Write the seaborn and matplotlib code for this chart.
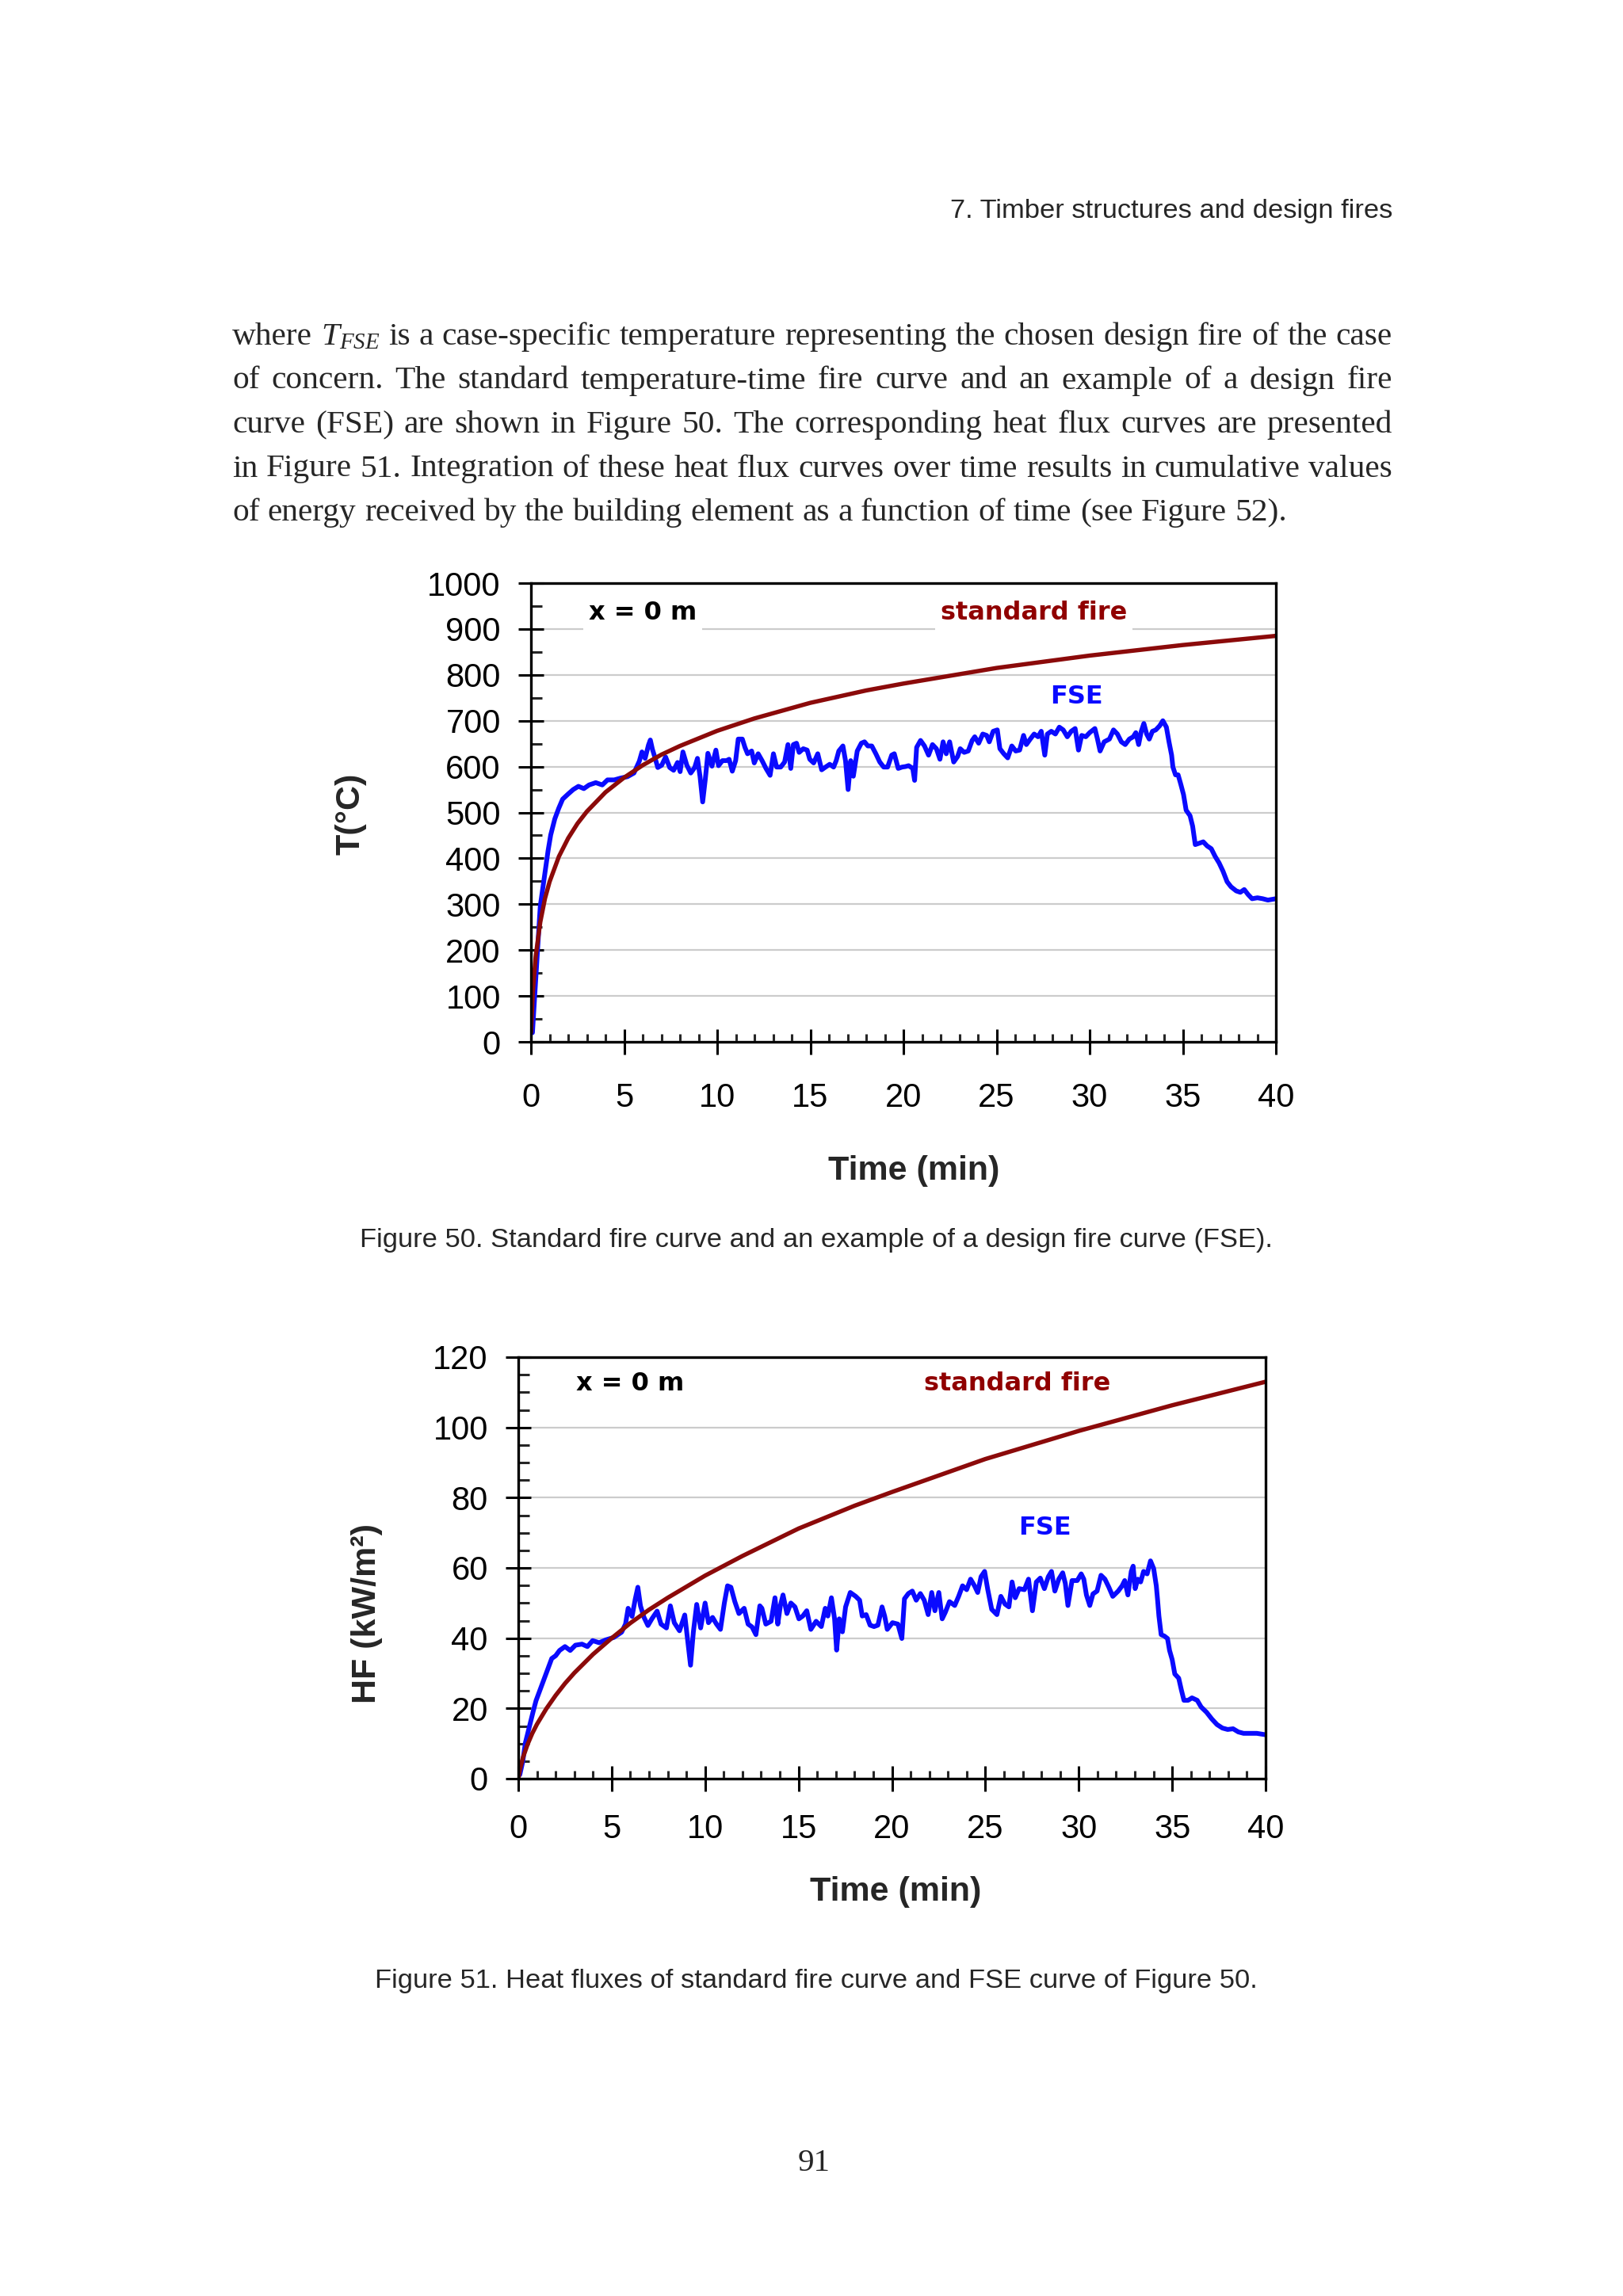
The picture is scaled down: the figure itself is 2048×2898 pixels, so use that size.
import matplotlib
matplotlib.use("Agg")
import matplotlib.pyplot as plt
from matplotlib.ticker import MultipleLocator
import seaborn as sns
import pandas as pd

# --- data ---
# standard fire (ISO 834 shape), temperature and heat flux
time_std = [0, 0.1, 0.25, 0.5, 0.75, 1, 1.5, 2, 2.5, 3, 4, 5, 6, 7, 8, 10, 12,
            15, 18, 20, 25, 30, 35, 40]
temp_std = [20, 108, 185, 261, 312, 349, 404, 444, 476, 502, 544, 576, 603, 626,
            645, 678, 705, 739, 766, 781, 815, 842, 865, 885]
hf_std = [0, 2.9, 6.0, 9.8, 12.9, 15.5, 19.9, 23.7, 27.1, 30.1, 35.4, 40.0, 44.3,
          48.1, 51.5, 57.8, 63.4, 71.2, 77.7, 81.6, 91.0, 99.0, 106.3, 113.0]

# FSE design fire, temperature (Figure 50)
time_fse_t = [
    0.08, 0.2, 0.35, 0.43, 0.5, 0.64, 0.78, 0.92, 1.06, 1.28, 1.49, 1.7, 1.99,
    2.27, 2.55, 2.84, 3.12, 3.48, 3.83, 4.11, 4.47, 4.82, 5.18, 5.53, 5.82, 5.96,
    6.13, 6.31, 6.41, 6.52, 6.67, 6.81, 7.02, 7.23, 7.45, 7.66, 7.87, 8.01, 8.16,
    8.37, 8.58, 8.79, 8.94, 9.08, 9.22, 9.36, 9.5, 9.72, 9.93, 10.07, 10.28,
    10.5, 10.64, 10.81, 10.99, 11.13, 11.35, 11.49, 11.63, 11.85, 11.99, 12.2,
    12.41, 12.62, 12.84, 13.02, 13.19, 13.41, 13.62, 13.8, 13.95, 14.09, 14.26,
    14.4, 14.62, 14.83, 14.97, 15.18, 15.4, 15.61, 15.82, 16.04, 16.25, 16.39,
    16.53, 16.75, 16.89, 17.03, 17.17, 17.31, 17.52, 17.74, 17.91, 18.09, 18.3,
    18.52, 18.73, 18.94, 19.15, 19.37, 19.51, 19.72, 19.93, 20.1, 20.28, 20.5,
    20.6, 20.71, 20.92, 21.13, 21.35, 21.56, 21.77, 21.96, 22.13, 22.3, 22.48,
    22.7, 22.91, 23.05, 23.26, 23.48, 23.69, 23.83, 24.04, 24.26, 24.47, 24.61,
    24.82, 25.04, 25.18, 25.39, 25.6, 25.82, 26.03, 26.24, 26.45, 26.6, 26.81,
    27.02, 27.23, 27.4, 27.59, 27.73, 27.94, 28.16, 28.37, 28.58, 28.8, 29.01,
    29.22, 29.4, 29.57, 29.79, 30.0, 30.28, 30.42, 30.56, 30.78, 31.06, 31.28,
    31.49, 31.7, 31.91, 32.13, 32.34, 32.48, 32.63, 32.77, 32.91, 33.06, 33.2,
    33.37, 33.55, 33.76, 33.93, 34.12, 34.26, 34.4, 34.47, 34.61, 34.75, 34.89,
    35.04, 35.18, 35.39, 35.53, 35.67, 35.89, 36.1, 36.31, 36.53, 36.74, 36.95,
    37.16, 37.38, 37.59, 37.87, 38.09, 38.3, 38.51, 38.72, 39.01, 39.29, 39.57,
    40.0,
]
temp_fse = [
    20, 100, 198, 250, 296, 336, 376, 417, 451, 486, 509, 529, 540,
    550, 557, 552, 560, 565, 560, 571, 571, 575, 578, 586, 612, 632,
    618, 647, 658, 638, 618, 598, 603, 621, 598, 592, 609, 589, 632,
    603, 586, 598, 618, 578, 523, 572, 629, 601, 636, 602, 613,
    613, 616, 590, 613, 660, 660, 642, 628, 634, 608, 628,
    613, 596, 581, 628, 599, 599, 610, 648, 596, 648, 651,
    631, 639, 636, 616, 608, 628, 593, 599, 605, 599, 613,
    634, 645, 613, 550, 613, 579, 634, 651, 654, 645, 645,
    628, 610, 599, 599, 625, 628, 596, 599, 600, 602, 596,
    570, 642, 657, 645, 625, 648, 639, 616, 654, 628, 654,
    610, 622, 639, 631, 634, 657, 665, 651, 671, 668, 654,
    677, 680, 639, 628, 619, 645, 634, 636, 668, 648, 660,
    671, 665, 677, 625, 671, 677, 671, 686, 680, 665, 677,
    683, 636, 668, 665, 674, 683, 660, 634, 654, 660, 680,
    671, 654, 648, 660, 665, 674, 648, 677, 694, 671, 660,
    677, 680, 689, 700, 686, 654, 625, 599, 582, 582, 562,
    539, 505, 493, 470, 430, 433, 436, 427, 421, 404, 390,
    372, 349, 338, 329, 326, 332, 321, 312, 314, 312, 309,
    312,
]

# FSE design fire, heat flux (Figure 51)
time_fse_hf = [
    0.08, 0.24, 0.38, 0.52, 0.66, 0.8, 0.95, 1.16, 1.37, 1.58, 1.79, 2.0, 2.21,
    2.5, 2.78, 3.06, 3.41, 3.7, 3.98, 4.33, 4.68, 5.11, 5.53, 5.74, 5.88, 6.09,
    6.26, 6.4, 6.54, 6.73, 6.94, 7.15, 7.43, 7.64, 7.93, 8.14, 8.35, 8.63, 8.91,
    9.05, 9.22, 9.37, 9.55, 9.76, 10.0, 10.18, 10.4, 10.61, 10.82, 11.03, 11.2,
    11.38, 11.59, 11.81, 12.09, 12.3, 12.51, 12.72, 12.93, 13.04, 13.25, 13.53,
    13.74, 13.89, 14.03, 14.17, 14.38, 14.59, 14.81, 15.02, 15.23, 15.44, 15.66,
    15.94, 16.22, 16.43, 16.57, 16.76, 16.93, 17.04, 17.18, 17.35, 17.52, 17.77,
    18.06, 18.27, 18.41, 18.62, 18.83, 19.04, 19.25, 19.47, 19.61, 19.75, 20.03,
    20.32, 20.53, 20.67, 20.88, 21.09, 21.3, 21.52, 21.73, 21.94, 22.13, 22.3,
    22.51, 22.69, 22.86, 23.08, 23.36, 23.57, 23.78, 24.0, 24.21, 24.42, 24.59,
    24.77, 24.96, 25.13, 25.34, 25.62, 25.83, 26.05, 26.26, 26.43, 26.6, 26.81,
    27.09, 27.31, 27.52, 27.73, 27.94, 28.16, 28.37, 28.54, 28.72, 28.93, 29.14,
    29.28, 29.42, 29.64, 29.92, 30.13, 30.27, 30.41, 30.59, 30.76, 30.98, 31.19,
    31.4, 31.61, 31.82, 32.11, 32.32, 32.46, 32.63, 32.81, 32.91, 33.02, 33.16,
    33.31, 33.47, 33.66, 33.84, 34.01, 34.15, 34.22, 34.29, 34.41, 34.58, 34.75,
    34.86, 35.0, 35.14, 35.35, 35.49, 35.63, 35.85, 36.06, 36.34, 36.55, 36.84,
    37.12, 37.4, 37.69, 37.97, 38.26, 38.54, 38.82, 39.25, 39.53, 40.0,
]
hf_fse = [
    1.1, 4.9, 10.2, 13.2, 16.2, 19.2, 22.2, 25.2, 28.2, 31.2, 34.2, 35.0, 36.5,
    37.6, 36.5, 38.0, 38.3, 37.6, 39.3, 38.7, 39.5, 40.2, 41.7, 44.0, 48.5, 46.2,
    51.1, 54.5, 49.2, 45.9, 43.6, 45.5, 47.7, 44.0, 42.9, 49.2, 44.4, 42.1, 46.6,
    40.2, 32.3, 41.7, 49.6, 42.9, 50.0, 44.4, 45.9, 44.0, 42.5, 50.0, 54.9,
    54.5, 50.4, 47.0, 48.5, 44.0, 43.2, 41.0, 49.2, 48.5, 44.0, 44.8,
    51.5, 44.0, 49.3, 52.3, 47.0, 50.0, 48.9, 45.5, 46.3, 47.8, 42.5,
    44.8, 43.3, 48.5, 46.3, 51.5, 45.5, 36.6, 45.5, 41.8, 48.9, 53.0,
    51.9, 50.8, 46.3, 46.7, 43.7, 43.3, 43.7, 48.9, 46.3, 42.5, 44.4,
    44.0, 39.9, 51.2, 52.7, 53.4, 50.8, 52.7, 50.8, 46.7, 53.0, 47.8,
    53.0, 45.5, 47.4, 50.4, 49.3, 51.9, 54.9, 53.8, 56.8, 54.9, 53.0,
    57.5, 59.0, 53.8, 48.2, 46.7, 51.9, 49.7, 48.9, 56.0, 51.5, 54.1,
    53.8, 56.8, 47.8, 56.0, 57.1, 54.1, 57.5, 59.0, 53.4, 56.8, 58.6,
    55.6, 49.3, 56.4, 56.4, 58.3, 56.8, 52.3, 49.3, 52.6, 53.4, 57.9,
    56.8, 54.5, 51.9, 53.4, 54.9, 56.4, 52.3, 59.0, 60.5, 54.1, 56.8,
    56.0, 59.0, 58.3, 62.0, 59.8, 54.9, 50.8, 46.3, 41.0, 40.6, 39.9,
    36.5, 33.9, 29.8, 28.6, 25.3, 22.3, 22.3, 23.0, 22.3, 20.4, 18.9,
    17.0, 15.4, 14.4, 14.0, 14.2, 13.3, 12.9, 12.9, 12.9, 12.5,
]

header = "7. Timber structures and design fires"
body_lines = [
    "where $T_{FSE}$ is a case-specific temperature representing the chosen design fire of the case",
    "of concern. The standard temperature-time fire curve and an example of a design fire",
    "curve (FSE) are shown in Figure 50. The corresponding heat flux curves are presented",
    "in Figure 51. Integration of these heat flux curves over time results in cumulative values",
    "of energy received by the building element as a function of time (see Figure 52).",
]
caption_50 = "Figure 50. Standard fire curve and an example of a design fire curve (FSE)."
caption_51 = "Figure 51. Heat fluxes of standard fire curve and FSE curve of Figure 50."

RED = "#8b0a0a"
BLUE = "#0a0aff"

sns.set_style("white")
plt.rcParams["font.family"] = ["Liberation Sans", "DejaVu Sans"]
plt.rcParams["mathtext.fontset"] = "custom"
plt.rcParams["mathtext.rm"] = "Liberation Serif"
plt.rcParams["mathtext.it"] = "Liberation Serif:italic"

W, H = 2048, 2898
fig = plt.figure(figsize=(W / 100, H / 100), dpi=100)
fig.patch.set_facecolor("white")


def style_axes(ax, ymax, ymajor, yminor, xpad):
    ax.set_xlim(0, 40)
    ax.set_ylim(0, ymax)
    ax.xaxis.set_major_locator(MultipleLocator(5))
    ax.xaxis.set_minor_locator(MultipleLocator(1))
    ax.yaxis.set_major_locator(MultipleLocator(ymajor))
    ax.yaxis.set_minor_locator(MultipleLocator(yminor))
    ax.grid(True, which="major", axis="y", color="#cccccc", lw=1.6)
    ax.set_axisbelow(True)
    for s in ax.spines.values():
        s.set_visible(True)
        s.set_color("black")
        s.set_linewidth(2.4)
    ax.tick_params(which="major", direction="inout", length=23, width=2.2,
                   color="black", labelsize=30, labelcolor="black",
                   bottom=True, left=True, top=False, right=False)
    ax.tick_params(axis="y", which="major", pad=16)
    ax.tick_params(axis="x", which="major", pad=xpad)
    ax.tick_params(axis="y", which="minor", direction="in", length=10, width=2.2,
                   left=True, right=False)
    ax.tick_params(axis="x", which="minor", direction="in", length=7.5, width=2.2,
                   bottom=True, top=False)


def add_labels(ax, x0, y0, xs, ys, xf, yf):
    kw = dict(family=["DejaVu Sans"], fontweight="bold", fontsize=23, va="center")
    ax.text(x0, y0, "x = 0 m", color="black", ha="left",
            bbox=dict(fc="white", ec="none", pad=5), zorder=5, **kw)
    ax.text(xs, ys, "standard fire", color="#900000", ha="center",
            bbox=dict(fc="white", ec="none", pad=5), zorder=5, **kw)
    ax.text(xf, yf, "FSE", color=BLUE, ha="center", zorder=5, **kw)


# --- Figure 50: temperature ---
ax1 = fig.add_axes([670 / W, 1 - 1315 / H, 940 / W, 579 / H])
df_t_fse = pd.DataFrame({"time": time_fse_t, "value": temp_fse})
df_t_std = pd.DataFrame({"time": time_std, "value": temp_std})
sns.lineplot(data=df_t_fse, x="time", y="value", color=BLUE, lw=4.3,
             errorbar=None, ax=ax1)
sns.lineplot(data=df_t_std, x="time", y="value", color=RED, lw=3.9,
             errorbar=None, ax=ax1)
style_axes(ax1, 1000, 100, 50, 25)
ax1.set_xlabel("Time (min)", fontsize=31, fontweight="bold", va="center")
ax1.xaxis.set_label_coords(0.514, -0.282)
ax1.set_ylabel("T(°C)", fontsize=31, fontweight="bold", va="center")
ax1.yaxis.set_label_coords(-0.242, 0.497)
add_labels(ax1, 3.1, 936, 27.0, 936, 29.3, 753)

# --- Figure 51: heat flux ---
ax2 = fig.add_axes([654 / W, 1 - 2245 / H, 943 / W, 532 / H])
df_h_fse = pd.DataFrame({"time": time_fse_hf, "value": hf_fse})
df_h_std = pd.DataFrame({"time": time_std, "value": hf_std})
sns.lineplot(data=df_h_fse, x="time", y="value", color=BLUE, lw=4.3,
             errorbar=None, ax=ax2)
sns.lineplot(data=df_h_std, x="time", y="value", color=RED, lw=3.9,
             errorbar=None, ax=ax2)
style_axes(ax2, 120, 20, 5, 20)
ax2.set_xlabel("Time (min)", fontsize=31, fontweight="bold", va="center")
ax2.xaxis.set_label_coords(0.505, -0.269)
ax2.set_ylabel("HF (kW/m²)", fontsize=31, fontweight="bold", va="center")
ax2.yaxis.set_label_coords(-0.203, 0.391)
add_labels(ax2, 3.09, 112.5, 26.7, 112.5, 28.2, 71.5)

# --- page text ---
fig.text(1757 / W, 1 - 267 / H, header, ha="right", va="center", fontsize=24.8)
fig.text(1030 / W, 1 - 1565 / H, caption_50, ha="center", va="center", fontsize=24.8)
fig.text(1030 / W, 1 - 2500 / H, caption_51, ha="center", va="center", fontsize=24.8)
fig.text(1027 / W, 1 - 2731 / H, "91", ha="center", va="center", fontsize=29.5,
         family=["Liberation Serif"])

# justified body paragraph
renderer = fig.canvas.get_renderer()
left, right = 293, 1757
for i, line in enumerate(body_lines):
    y = 1 - (435 + i * 55.5) / H
    words = line.split(" ")
    items = [fig.text(0, y, w, fontsize=29.8, family=["Liberation Serif"],
                      va="baseline", ha="left") for w in words]
    widths = [t.get_window_extent(renderer).width for t in items]
    if i == len(body_lines) - 1:
        gap = 0.25 * 29.8 * 100 / 72
    else:
        gap = (right - left - sum(widths)) / (len(words) - 1)
    x = left
    for t, w in zip(items, widths):
        t.set_x(x / W)
        x += w + gap

fig.savefig("out.png", dpi=100, facecolor="white")
